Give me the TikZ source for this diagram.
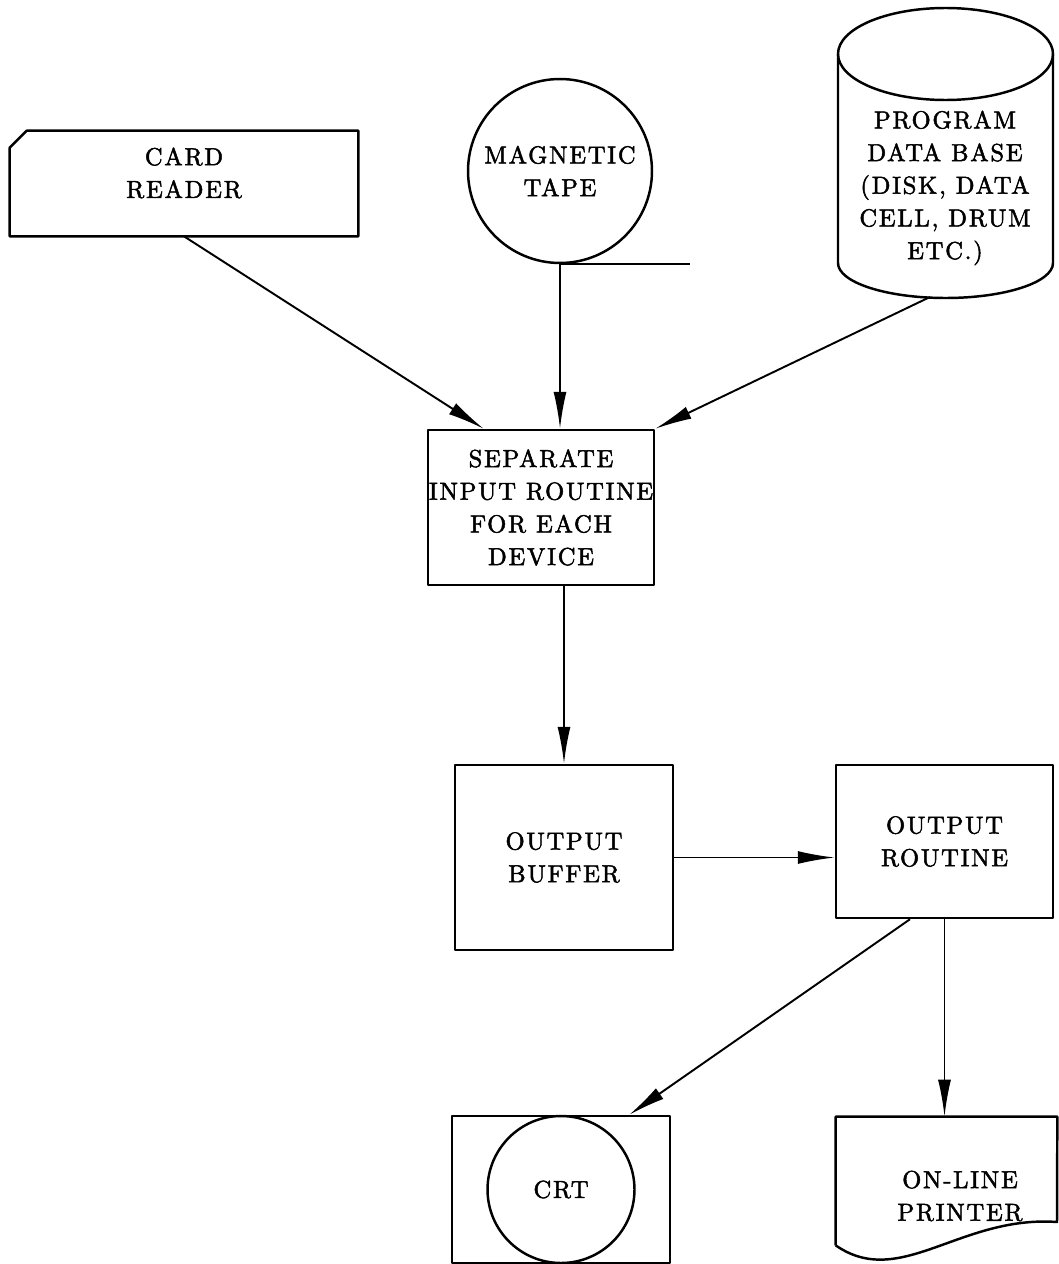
\documentclass[tikz,border=0pt]{standalone}
\usepackage{fontspec}
\usetikzlibrary{arrows.meta}

\newfontfamily\chartfont{lmroman10-regular.otf}[LetterSpace=7, FakeBold=2]
\newcommand\boxfont{\chartfont\fontsize{14}{18.6}\selectfont}

\begin{document}
\begin{tikzpicture}[x=0.02cm, y=0.02cm,
  outline/.style={line width=1.4pt, line join=round},
  unit/.style={outline, draw, align=center, font=\boxfont, inner sep=0pt},
  words/.style={align=center, font=\boxfont, inner sep=0pt},
  flow/.style={line width=1.1pt, -{Latex[length=0.74cm, width=0.26cm]}}]

  \useasboundingbox (0,0) rectangle (1058,-1264);

  % input devices
  \node[minimum width=6.96cm, minimum height=2.1cm] (card) at (184,-183.5) {};
  \draw[outline] ([yshift=-0.34cm]card.north west) -- ([xshift=0.34cm]card.north west)
    -- (card.north east) -- (card.south east) -- (card.south west) -- cycle;
  \node[words] (cardtext) at (184,-173) {CARD\\READER};

  \node[unit, circle, minimum size=3.68cm] (tape) at (560,-171) {MAGNETIC\\TAPE};
  \draw[outline] (tape.south) -- ++(130,0);

  \draw[outline] (838,-54) -- (838,-263) arc[start angle=180, end angle=360, x radius=107.5, y radius=35] -- (1053,-54);
  \draw[outline] (945.5,-54) ellipse[x radius=107.5, y radius=46];
  \node[words] (drum) at (945,-188) {PROGRAM\\DATA BASE\\(DISK, DATA\\CELL, DRUM\\ETC.)};
  \coordinate (drumbase) at (930,-297);

  % processing
  \node[unit, minimum width=4.52cm, minimum height=3.1cm] (sep) at (541,-507.5)
    {SEPARATE\\INPUT ROUTINE\\FOR EACH\\DEVICE};
  \node[unit, minimum width=4.36cm, minimum height=3.7cm] (buffer) at (564,-857.5) {OUTPUT\\BUFFER};
  \node[unit, minimum width=4.34cm, minimum height=3.06cm] (routine) at (944.5,-841.5) {OUTPUT\\ROUTINE};

  % output devices
  \node[unit, minimum width=4.36cm, minimum height=2.94cm] (crt) at (561,-1189.5) {};
  \node[unit, circle, minimum size=2.94cm] (tube) at (crt.center) {CRT};
  \node[minimum width=4.42cm, minimum height=2.56cm] (printer) at (946.5,-1181) {};
  \draw[outline] (printer.south west) -- (printer.north west) -- (printer.north east) -- (1057,-1222)
    .. controls (960,-1215) and (900,-1290) .. (printer.south west);
  \node[words] (printertext) at (960,-1196) {ON-LINE\\PRINTER};

  % connectors
  \draw[flow] (card.south) -- ([xshift=1.14cm]sep.north west);
  \draw[flow] (tape.south) -- (tape.south |- sep.north);
  \draw[flow] (drumbase) -- (sep.north east);
  \draw[flow] (buffer.north |- sep.south) -- (buffer.north);
  \draw[flow] (buffer.east) -- (buffer.east -| routine.west);
  \draw[flow] ([xshift=-0.69cm]routine.south) -- ([xshift=-0.84cm]crt.north east);
  \draw[flow] (routine.south) -- (routine.south |- printer.north);
\end{tikzpicture}
\end{document}
